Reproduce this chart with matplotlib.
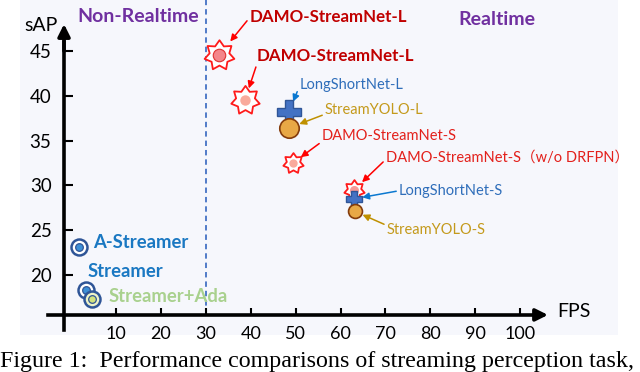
import matplotlib
matplotlib.use("Agg")
import matplotlib.pyplot as plt
from matplotlib.path import Path
from matplotlib.patches import Rectangle

# values (FPS, sAP)
damo_names = ["DAMO-StreamNet-L", "DAMO-StreamNet-L", "DAMO-StreamNet-S",
              "DAMO-StreamNet-S（w/o DRFPN）"]
damo_fps = [32.9, 38.7, 49.4, 63.0]
damo_sap = [44.5, 39.5, 32.5, 29.5]

lsn_names = ["LongShortNet-L", "LongShortNet-S"]
lsn_fps = [48.5, 63.0]
lsn_sap = [38.2, 28.5]

syolo_names = ["StreamYOLO-L", "StreamYOLO-S"]
syolo_fps = [48.5, 63.2]
syolo_sap = [36.4, 27.1]

streamer_names = ["A-Streamer", "Streamer", "Streamer+Ada"]
streamer_fps = [1.8, 3.3, 4.6]
streamer_sap = [23.1, 18.3, 17.3]

x_ticks = [10, 20, 30, 40, 50, 60, 70, 80, 90, 100]
y_ticks = [20, 25, 30, 35, 40, 45]
realtime_fps = 30

FONT = ["Lato", "Noto Sans CJK SC", "DejaVu Sans"]
plt.rcParams["font.family"] = FONT

fig = plt.figure(figsize=(6.4, 3.72), dpi=100)
fig.patches.append(Rectangle((20 / 640, 1 - 335 / 372), 598 / 640, 335 / 372,
                             transform=fig.transFigure, facecolor="#f6f7fc",
                             edgecolor="none", zorder=-10))
ax = fig.add_axes([0, 0, 1, 1])
ax.patch.set_visible(False)
ax.set_xlim(-15.84, 126.7)
ax.set_ylim(9.17, 50.69)

# axes drawn as crossing lines with arrow heads
y0_axis = 15.54
x0_axis = -1.58
for s in ["top", "right"]:
    ax.spines[s].set_visible(False)
ax.spines["left"].set_position(("data", x0_axis))
ax.spines["bottom"].set_position(("data", y0_axis))
ax.spines["left"].set_bounds(13.86, 46)
ax.spines["bottom"].set_bounds(-5.1, 104)
ax.spines["left"].set_linewidth(2.6)
ax.spines["bottom"].set_linewidth(2.6)
ax.set_xticks(x_ticks)
ax.set_yticks(y_ticks)
ax.tick_params(axis="x", direction="in", length=5, width=1.5, pad=8, labelsize=13)
ax.tick_params(axis="y", direction="in", length=6.5, width=1.5, pad=9, labelsize=13.5)
ax.annotate("", xy=(x0_axis, 48.0), xytext=(x0_axis, 45),
            arrowprops=dict(arrowstyle="-|>", color="black", lw=2.6,
                            mutation_scale=18, shrinkA=0, shrinkB=0))
ax.annotate("", xy=(106.2, y0_axis), xytext=(103, y0_axis),
            arrowprops=dict(arrowstyle="-|>", color="black", lw=2.6,
                            mutation_scale=18, shrinkA=0, shrinkB=0))
ax.text(-10.3, 47.8, "sAP", fontsize=14, va="center", ha="left")
ax.text(108.2, y0_axis + 0.4, "FPS", fontsize=14, va="center", ha="left")

# realtime boundary
ax.plot([realtime_fps, realtime_fps], [y0_axis, 50.69], color="#4472c4",
        lw=1.3, ls=(0, (3, 2.2)), zorder=1)
ax.text(1.4, 48.9, "Non-Realtime", fontsize=14, fontweight="bold",
        color="#7030a0", va="center")
ax.text(86.2, 48.5, "Realtime", fontsize=14, fontweight="bold",
        color="#7030a0", va="center")

# DAMO-StreamNet: seven point stars
star = Path.unit_regular_star(7, innerCircle=0.66)
star_sizes = [22, 21, 15, 15]
inner_sizes = [9, 7.5, 6, 6.5]
inner_face = ["#f4868a", "#f9aa9c", "#f9aa9c", "#f79a98"]
inner_edge = ["#e03030", "none", "none", "none"]
for i in range(len(damo_fps)):
    ax.plot(damo_fps[i], damo_sap[i], marker=star, ms=star_sizes[i],
            mfc="white", mec="#ff1a1a", mew=1.3, zorder=3)
    ax.plot(damo_fps[i], damo_sap[i], marker="o", ms=inner_sizes[i],
            mfc=inner_face[i], mec=inner_edge[i], mew=0.8, zorder=3)

# StreamYOLO circles
yolo_sizes = [14, 10]
for i in range(len(syolo_fps)):
    ax.plot(syolo_fps[i], syolo_sap[i], marker="o", ms=yolo_sizes[i],
            mfc="#e8a846", mec="#843c0c", mew=1.2, zorder=5)

# LongShortNet crosses
lsn_sizes = [17, 11]
for i in range(len(lsn_fps)):
    ax.plot(lsn_fps[i], lsn_sap[i], marker="P", ms=lsn_sizes[i],
            mfc="#4472c4", mec="#2f5597", mew=1.0, zorder=4)

# Streamer family: ringed circles
outer_face = ["white", "white", "#eef3c8"]
core_face = ["#3d8fd6", "#3d8fd6", "#d2e27e"]
for i in range(len(streamer_fps)):
    ax.plot(streamer_fps[i], streamer_sap[i], marker="o", ms=11.5,
            mfc=outer_face[i], mec="#2f5597", mew=1.8, zorder=6 + i)
    ax.plot(streamer_fps[i], streamer_sap[i], marker="o", ms=5.5,
            mfc=core_face[i], mec="#2f5597", mew=0.9, zorder=6 + i)

# labels with arrows (offsets in points)
damo_offsets = [(22.3, 27.4), (8.6, 31.7), (20.9, 19.4), (23, 23)]
damo_relpos = [(0, 0.5), (0.0, 0.0), (0.02, 0.25), (0, 0.4)]
damo_shrink = [13, 9, 7, 8]
damo_weight = ["bold", "bold", "normal", "normal"]
damo_color = ["#c00000", "#c00000", "#e3201b", "#e3201b"]
for i in range(len(damo_fps)):
    ax.annotate(damo_names[i], xy=(damo_fps[i], damo_sap[i]),
                xytext=damo_offsets[i], textcoords="offset points",
                ha="left", va="center", fontsize=12.2 if i < 2 else 10.5,
                fontweight=damo_weight[i], color=damo_color[i],
                arrowprops=dict(arrowstyle="-|>", color="#ff0000", lw=1.1,
                                mutation_scale=10, relpos=damo_relpos[i],
                                shrinkA=0, shrinkB=damo_shrink[i]))

lsn_offsets = [(8, 19.4), (32.4, 5.8)]
lsn_shrink = [8, 6]
for i in range(len(lsn_fps)):
    ax.annotate(lsn_names[i], xy=(lsn_fps[i], lsn_sap[i]),
                xytext=lsn_offsets[i], textcoords="offset points",
                ha="left", va="center", fontsize=10.5, color="#2f6eba",
                arrowprops=dict(arrowstyle="-|>", color="#0a78d0", lw=1.1,
                                mutation_scale=10, relpos=(0, 0.5),
                                shrinkA=0, shrinkB=lsn_shrink[i]))

syolo_offsets = [(26, 13), (23, -13.7)]
syolo_relpos = [(0, 0.2), (0, 0.85)]
syolo_shrink = [8, 6]
for i in range(len(syolo_fps)):
    ax.annotate(syolo_names[i], xy=(syolo_fps[i], syolo_sap[i]),
                xytext=syolo_offsets[i], textcoords="offset points",
                ha="left", va="center", fontsize=10.5, color="#c49a1c",
                arrowprops=dict(arrowstyle="-|>", color="#bf9000", lw=1.1,
                                mutation_scale=10, relpos=syolo_relpos[i],
                                shrinkA=0, shrinkB=syolo_shrink[i]))

streamer_offsets = [(10, 3.6), (1.4, 13.7), (12.2, 2.2)]
streamer_color = ["#1a78c2", "#1a78c2", "#a9d18e"]
for i in range(len(streamer_fps)):
    ax.annotate(streamer_names[i], xy=(streamer_fps[i], streamer_sap[i]),
                xytext=streamer_offsets[i], textcoords="offset points",
                ha="left", va="center", fontsize=13.3, fontweight="bold",
                color=streamer_color[i])

fig.text(0.0, 5 / 372,
         "Figure 1:  Performance comparisons of streaming perception task,",
         fontsize=17.3, family=["Liberation Serif", "DejaVu Serif"],
         ha="left", va="baseline")

fig.savefig("out.png", dpi=100)
